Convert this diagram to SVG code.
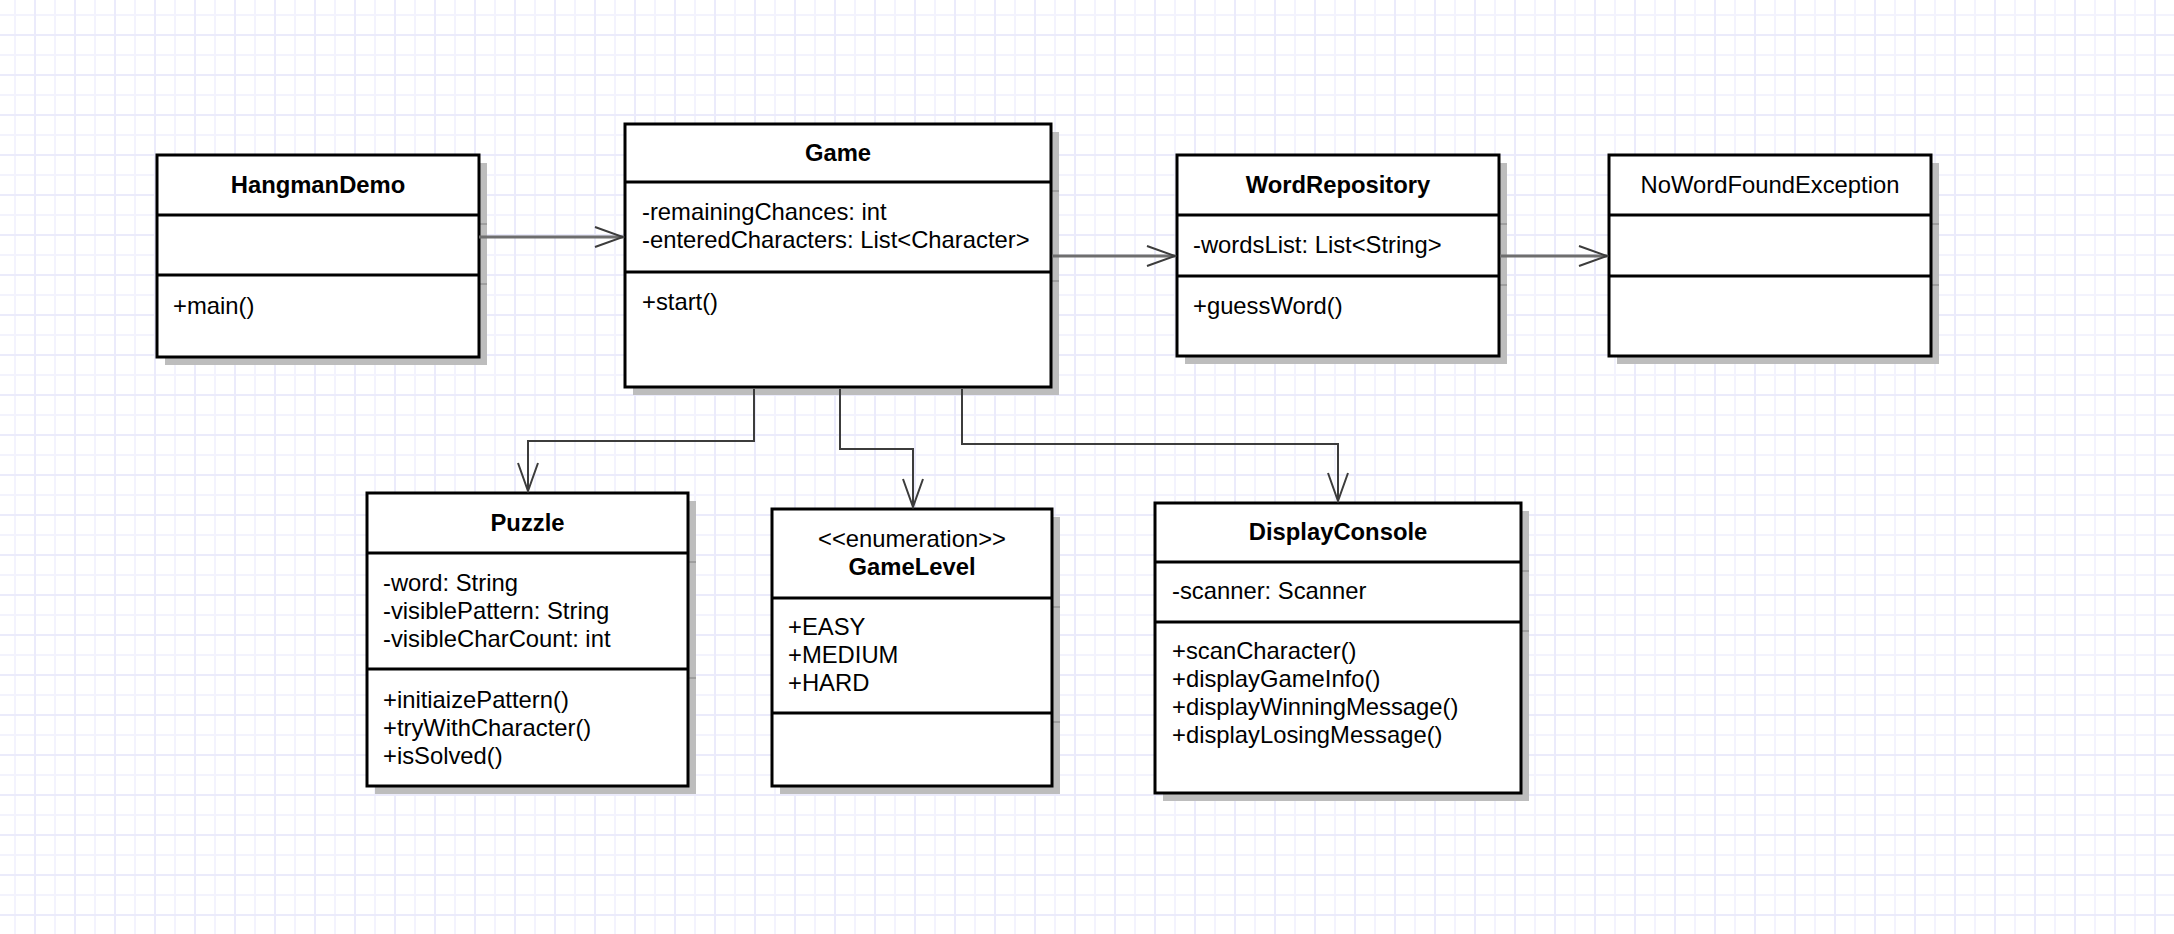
<svg xmlns="http://www.w3.org/2000/svg" width="2174" height="934" viewBox="0 0 2174 934">
  <style>
    text { font-family: "Liberation Sans", Arial, Helvetica, sans-serif; font-size: 23.8px; fill: #000; }
    .title { font-weight: bold; text-anchor: middle; }
    .name { text-anchor: middle; }
    .box { fill: #fff; stroke: #000; stroke-width: 3; }
    .div { stroke: #000; stroke-width: 3; }
    .shadow { fill: #bdbdbd; }
    .shadow-div { stroke: #9e9e9e; stroke-width: 2; }
    .link-h { fill: none; stroke: #6e6e6e; stroke-width: 3; }
    .link-v { fill: none; stroke: #3c3c3c; stroke-width: 2; }
  </style>
  <defs>
    <pattern id="grid" x="0" y="0" width="40" height="40" patternUnits="userSpaceOnUse">
      <path d="M15 0V40M0 15H40" stroke="#f3f3fd" stroke-width="2" fill="none"/>
      <path d="M35 0V40M0 35H40" stroke="#ebebfb" stroke-width="2" fill="none"/>
    </pattern>
    <marker id="open-arrow" markerUnits="userSpaceOnUse" viewBox="-30 -12 32 24" refX="0" refY="0" markerWidth="32" markerHeight="24" orient="auto">
      <path d="M-28 -10L0 0L-28 10" fill="none" stroke="#3c3c3c" stroke-width="2"/>
    </marker>
  </defs>

  <!-- background grid -->
  <rect width="2174" height="934" fill="#fff"/>
  <rect width="2174" height="934" fill="url(#grid)"/>

  <!-- HangmanDemo -->
  <g id="HangmanDemo">
    <rect class="shadow" x="165" y="163" width="322" height="202"/>
    <path class="shadow-div" d="M478 224H487M478 284H487"/>
    <rect class="box" x="157" y="155" width="322" height="202"/>
    <path class="div" d="M157 215H479M157 275H479"/>
    <text class="title" x="318" y="193">HangmanDemo</text>
    <text x="173" y="314">+main()</text>
  </g>

  <!-- Game -->
  <g id="Game">
    <rect class="shadow" x="633" y="132" width="426" height="263"/>
    <path class="shadow-div" d="M1051 191H1059M1051 281H1059"/>
    <rect class="box" x="625" y="124" width="426" height="263"/>
    <path class="div" d="M625 182H1051M625 272H1051"/>
    <text class="title" x="838" y="161">Game</text>
    <text x="642" y="220">-remainingChances: int</text>
    <text x="642" y="248">-enteredCharacters: List&lt;Character&gt;</text>
    <text x="642" y="310">+start()</text>
  </g>

  <!-- WordRepository -->
  <g id="WordRepository">
    <rect class="shadow" x="1185" y="163" width="322" height="201"/>
    <path class="shadow-div" d="M1499 224H1507M1499 285H1507"/>
    <rect class="box" x="1177" y="155" width="322" height="201"/>
    <path class="div" d="M1177 215H1499M1177 276H1499"/>
    <text class="title" x="1338" y="193">WordRepository</text>
    <text x="1193" y="253">-wordsList: List&lt;String&gt;</text>
    <text x="1193" y="314">+guessWord()</text>
  </g>

  <!-- NoWordFoundException -->
  <g id="NoWordFoundException">
    <rect class="shadow" x="1617" y="163" width="322" height="201"/>
    <path class="shadow-div" d="M1931 224H1939M1931 285H1939"/>
    <rect class="box" x="1609" y="155" width="322" height="201"/>
    <path class="div" d="M1609 215H1931M1609 276H1931"/>
    <text class="name" x="1770" y="193">NoWordFoundException</text>
  </g>

  <!-- Puzzle -->
  <g id="Puzzle">
    <rect class="shadow" x="375" y="501" width="321" height="293"/>
    <path class="shadow-div" d="M688 562H696M688 678H696"/>
    <rect class="box" x="367" y="493" width="321" height="293"/>
    <path class="div" d="M367 553H688M367 669H688"/>
    <text class="title" x="527.5" y="531">Puzzle</text>
    <text x="383" y="591">-word: String</text>
    <text x="383" y="619">-visiblePattern: String</text>
    <text x="383" y="647">-visibleCharCount: int</text>
    <text x="383" y="708">+initiaizePattern()</text>
    <text x="383" y="736">+tryWithCharacter()</text>
    <text x="383" y="764">+isSolved()</text>
  </g>

  <!-- GameLevel -->
  <g id="GameLevel">
    <rect class="shadow" x="780" y="517" width="280" height="277"/>
    <path class="shadow-div" d="M1052 607H1060M1052 722H1060"/>
    <rect class="box" x="772" y="509" width="280" height="277"/>
    <path class="div" d="M772 598H1052M772 713H1052"/>
    <text class="name" x="912" y="547">&lt;&lt;enumeration&gt;&gt;</text>
    <text class="title" x="912" y="575">GameLevel</text>
    <text x="788" y="635">+EASY</text>
    <text x="788" y="663">+MEDIUM</text>
    <text x="788" y="691">+HARD</text>
  </g>

  <!-- DisplayConsole -->
  <g id="DisplayConsole">
    <rect class="shadow" x="1163" y="511" width="366" height="290"/>
    <path class="shadow-div" d="M1521 571H1529M1521 631H1529"/>
    <rect class="box" x="1155" y="503" width="366" height="290"/>
    <path class="div" d="M1155 562H1521M1155 622H1521"/>
    <text class="title" x="1338" y="540">DisplayConsole</text>
    <text x="1172" y="599">-scanner: Scanner</text>
    <text x="1172" y="659">+scanCharacter()</text>
    <text x="1172" y="687">+displayGameInfo()</text>
    <text x="1172" y="715">+displayWinningMessage()</text>
    <text x="1172" y="743">+displayLosingMessage()</text>
  </g>

  <!-- connectors, drawn over the box shadows -->
  <g id="connectors">
    <path class="link-h" d="M479 237H623" marker-end="url(#open-arrow)"/>
    <path class="link-h" d="M1052 256H1175" marker-end="url(#open-arrow)"/>
    <path class="link-h" d="M1500 256H1607" marker-end="url(#open-arrow)"/>
    <path class="link-v" d="M754 389V441H528V491" marker-end="url(#open-arrow)"/>
    <path class="link-v" d="M840 389V449H913V507" marker-end="url(#open-arrow)"/>
    <path class="link-v" d="M962 389V444H1338V501" marker-end="url(#open-arrow)"/>
  </g>
</svg>
